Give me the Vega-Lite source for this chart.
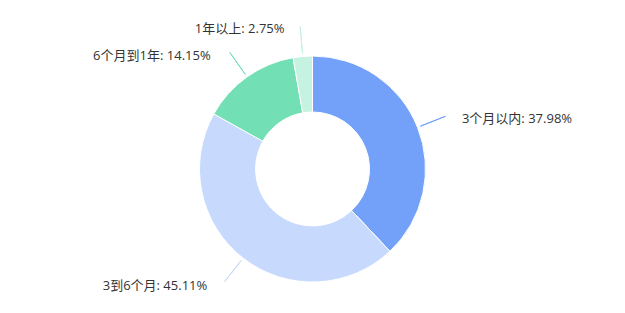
{
  "$schema": "https://vega.github.io/schema/vega-lite/v6.json",
  "width": 625,
  "height": 313,
  "autosize": {"type": "fit", "contains": "padding"},
  "padding": {"top": 25, "left": 0, "right": 0, "bottom": 0},
  "background": "white",
  "config": {"view": {"stroke": null}},
  "data": {
    "values": [
      {"idx": 1, "category": "3个月以内", "value": 37.98},
      {"idx": 2, "category": "3到6个月", "value": 45.11},
      {"idx": 3, "category": "6个月到1年", "value": 14.15},
      {"idx": 4, "category": "1年以上", "value": 2.75}
    ]
  },
  "transform": [
    {"window": [{"op": "sum", "field": "value", "as": "cum"}], "sort": [{"field": "idx"}], "frame": [null, 0]},
    {"calculate": "datum.cum - datum.value / 2", "as": "mid"},
    {"calculate": "datum.category + ': ' + format(datum.value, '.2f') + '%'", "as": "label"}
  ],
  "layer": [
    {
      "mark": {"type": "arc", "stroke": "white", "strokeWidth": 1},
      "encoding": {
        "theta": {"field": "value", "type": "quantitative", "stack": true, "scale": {"domain": [0, 99.99]}},
        "order": {"field": "idx", "type": "quantitative"},
        "radius": {"value": 113},
        "radius2": {"value": 57},
        "color": {
          "field": "category", "type": "nominal", "legend": null,
          "scale": {"domain": ["3个月以内", "3到6个月", "6个月到1年", "1年以上"], "range": ["#73a1fa", "#c7d9fc", "#73dfb4", "#c5f2e1"]}
        }
      }
    },
    {
      "mark": {"type": "arc", "strokeWidth": 1, "fill": null},
      "encoding": {
        "theta": {"field": "mid", "type": "quantitative", "scale": {"domain": [0, 99.99]}},
        "theta2": {"field": "mid"},
        "radius": {"value": 116},
        "radius2": {"value": 143},
        "stroke": {
          "field": "category", "type": "nominal", "legend": null,
          "scale": {"domain": ["3个月以内", "3到6个月", "6个月到1年", "1年以上"], "range": ["#73a1fa", "#c7d9fc", "#73dfb4", "#c5f2e1"]}
        }
      }
    },
    {
      "transform": [{"filter": "datum.idx == 1"}],
      "mark": {"type": "text", "align": "left", "baseline": "middle", "font": "'Open Sans', 'Noto Sans CJK SC', sans-serif", "fontSize": 13, "fill": "#333333", "dx": 10, "dy": 5},
      "encoding": {
        "theta": {"field": "mid", "type": "quantitative", "scale": {"domain": [0, 99.99]}},
        "radius": {"value": 150},
        "text": {"field": "label"}
      }
    },
    {
      "transform": [{"filter": "datum.idx == 2"}],
      "mark": {"type": "text", "align": "right", "baseline": "middle", "font": "'Open Sans', 'Noto Sans CJK SC', sans-serif", "fontSize": 13, "fill": "#333333", "dx": -13, "dy": -1},
      "encoding": {
        "theta": {"field": "mid", "type": "quantitative", "scale": {"domain": [0, 99.99]}},
        "radius": {"value": 150},
        "text": {"field": "label"}
      }
    },
    {
      "transform": [{"filter": "datum.idx >= 3"}],
      "mark": {"type": "text", "align": "right", "baseline": "middle", "font": "'Open Sans', 'Noto Sans CJK SC', sans-serif", "fontSize": 13, "fill": "#333333", "dx": -15, "dy": 9},
      "encoding": {
        "theta": {"field": "mid", "type": "quantitative", "scale": {"domain": [0, 99.99]}},
        "radius": {"value": 150},
        "text": {"field": "label"}
      }
    }
  ]
}
